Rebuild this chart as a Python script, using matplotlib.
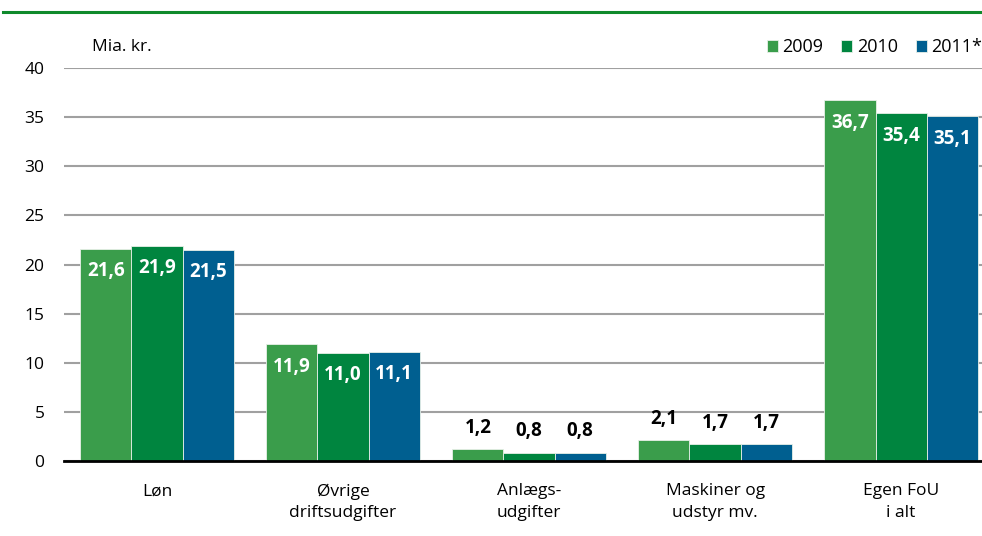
import matplotlib
matplotlib.use("Agg")
import matplotlib.pyplot as plt
import numpy as np

plt.rcParams['font.family'] = ['Open Sans', 'DejaVu Sans']

categories = ["Løn", "Øvrige\ndriftsudgifter", "Anlægs-\nudgifter", "Maskiner og\nudstyr mv.", "Egen FoU\ni alt"]
years = ["2009", "2010", "2011*"]
v2009 = [21.6, 11.9, 1.2, 2.1, 36.7]
v2010 = [21.9, 11.0, 0.8, 1.7, 35.4]
v2011 = [21.5, 11.1, 0.8, 1.7, 35.1]
yticks = [0, 5, 10, 15, 20, 25, 30, 35, 40]
colors = ["#3a9d4b", "#00853f", "#005f90"]

fig = plt.figure(figsize=(9.82, 5.36), dpi=100)
ax = fig.add_axes([0.0652, 0.1399, 0.9348, 0.7332])

x = np.arange(len(categories))
w = 0.275
series = [v2009, v2010, v2011]
for i, (vals, col, lab) in enumerate(zip(series, colors, years)):
    pos = x + (i - 1) * w
    ax.bar(pos, vals, width=w, color=col, edgecolor="#e8f0e8", linewidth=0.6, label=lab, zorder=3)
    for xp, v in zip(pos, vals):
        txt = f"{v:.1f}".replace(".", ",")
        if v > 5:
            ax.annotate(txt, (xp, v), xytext=(0, -9), textcoords="offset points",
                        ha="center", va="top", color="white", fontsize=13.5, fontweight="bold", zorder=4)
        else:
            ax.annotate(txt, (xp, v), xytext=(0, 12), textcoords="offset points",
                        ha="center", va="baseline", color="black", fontsize=13.5, fontweight="bold", zorder=4)

ax.set_xlim(-0.5, 4.435)
ax.set_ylim(0, 40)
ax.set_yticks(yticks)
ax.set_yticklabels([str(t) for t in yticks], fontsize=12.5)
ax.set_xticks(x)
ax.set_xticklabels(categories, fontsize=12.5, linespacing=1.45)
ax.tick_params(axis="both", length=0)
ax.tick_params(axis="x", pad=16)
ax.tick_params(axis="y", pad=14)
ax.grid(axis="y", color="#a0a0a0", linewidth=1.5, zorder=0)
for s in ["top", "right", "left"]:
    ax.spines[s].set_visible(False)
ax.spines["bottom"].set_linewidth(2)
ax.spines["bottom"].set_color("black")
ax.spines["bottom"].set_zorder(5)

fig.text(92 / 982, 1 - 47 / 536, "Mia. kr.", fontsize=12.5, va="center", ha="left")

ax.legend(loc="lower right", bbox_to_anchor=(1.0, 1.03), ncol=3, frameon=False,
          fontsize=13, handlelength=0.6, handleheight=0.6, handletextpad=0.25,
          columnspacing=1.0, borderaxespad=0, borderpad=0)

fig.add_artist(plt.Line2D([3 / 982, 1], [1 - 12 / 536, 1 - 12 / 536], color="#0f8a2c", linewidth=2.2))

fig.savefig("out.png", dpi=100)
